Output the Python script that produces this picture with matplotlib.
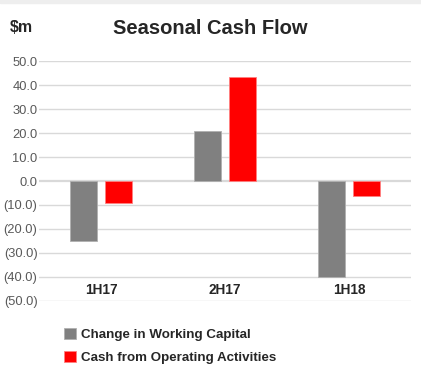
import matplotlib
matplotlib.use("Agg")
import matplotlib.pyplot as plt
import matplotlib.patches as mpatches
import numpy as np

plt.rcParams['font.family'] = ['Liberation Sans', 'DejaVu Sans']

periods = ['1H17', '2H17', '1H18']
working_capital = [-25.0, 21.0, -40.0]
operating_cash = [-9.0, 43.3, -6.3]
yticks = [50, 40, 30, 20, 10, 0, -10, -20, -30, -40, -50]


def fmt(v):
    return f"({abs(v):.1f})" if v < 0 else f"{v:.1f}"


fig = plt.figure(figsize=(4.21, 3.9), dpi=100)
fig.patches.append(mpatches.Rectangle((0, 1 - 3 / 390), 1, 3 / 390, transform=fig.transFigure,
                                      color='#eeeeee', zorder=0))
ax = fig.add_axes([39 / 421, 89 / 390, 372 / 421, 240 / 390])

x = np.arange(len(periods))
w = 0.22
off = 0.14
b1 = ax.bar(x - off, working_capital, w, color='#808080', edgecolor='#b0b0b0', linewidth=0.6,
            label='Change in Working Capital', zorder=3)
b2 = ax.bar(x + off, operating_cash, w, color='#ff0000', edgecolor='#ff8080', linewidth=0.6,
            label='Cash from Operating Activities', zorder=3)

ax.set_xlim(-0.5, len(periods) - 0.5)
ax.set_ylim(-50, 50)
for v in yticks:
    ax.axhline(v, color='#d9d9d9', lw=1.6 if v == 0 else 1.0, zorder=1)
ax.set_yticks(yticks)
ax.set_yticklabels([fmt(v) for v in yticks], color='#595959', fontsize=9.3)
ax.tick_params(axis='y', length=0, pad=1)
ax.set_xticks([])
for s in ax.spines.values():
    s.set_visible(False)

for i, p in enumerate(periods):
    ax.text(i, -45.5, p, ha='center', va='center', fontsize=9.8, fontweight='bold', color='#262626')

fig.text(210 / 421, 1 - 28 / 390, 'Seasonal Cash Flow', ha='center', va='center',
         fontsize=14.5, fontweight='bold', color='#262626')
fig.text(10 / 421, 1 - 28 / 390, '$m', ha='left', va='center',
         fontsize=11.5, fontweight='bold', color='#262626')

fig.legend(handles=[b1, b2], loc='upper left', bbox_to_anchor=(52 / 421, 1 - 316 / 390),
           frameon=False, prop={'weight': 'bold', 'size': 9.6},
           handlelength=0.9, handleheight=0.9, handletextpad=0.4, labelspacing=0.75,
           labelcolor='#262626')

fig.savefig('out.png', dpi=100, facecolor='white')
